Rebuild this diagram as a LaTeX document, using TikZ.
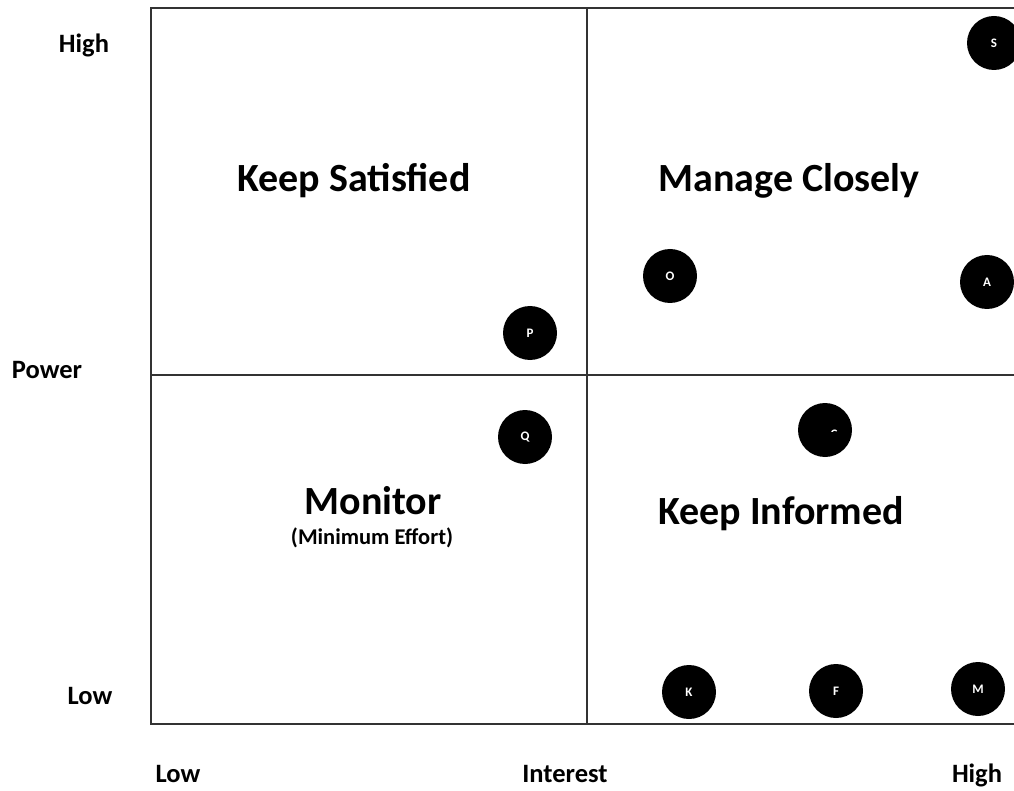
\documentclass[tikz,border=0pt]{standalone}
\usepackage{fontspec}
\setmainfont{Carlito}
\begin{document}
\begin{tikzpicture}[x=1pt,y=-1pt,
  grid/.style={draw=black!80,line width=1.3pt},
  axislabel/.style={font=\bfseries\fontsize{26.5}{28}\selectfont,text=black},
  quadtitle/.style={font=\bfseries\fontsize{40}{44}\selectfont,text=black},
  subtitle/.style={font=\bfseries\fontsize{22.5}{25}\selectfont,text=black},
  party/.style={circle,fill=black,minimum size=54pt,inner sep=0pt,text=white,
    font=\bfseries\fontsize{13}{15}\selectfont}]
\useasboundingbox (0,0) rectangle (1014,791);
\clip (0,0) rectangle (1014,791);
% quadrant grid
\coordinate (tl) at (151,8);
\coordinate (tr) at (1020,8);
\coordinate (bl) at (151,724);
\coordinate (br) at (1020,724);
\coordinate (mt) at (587,8);
\coordinate (mb) at (587,724);
\coordinate (ml) at (151,375);
\coordinate (mr) at (1020,375);
\draw[grid] (tr) -- (tl) -- (bl) -- (br);
\draw[grid] (mt) -- (mb);
\draw[grid] (ml) -- (mr);
% axis labels
\node[axislabel] (phigh) at (84,45) {High};
\node[axislabel] (power) at (47,370) {Power};
\node[axislabel] (plow) at (90,696) {Low};
\node[axislabel] (ilow) at (178,774) {Low};
\node[axislabel] (interest) at (565,774) {Interest};
\node[axislabel] (ihigh) at (977,775) {High};
% quadrant titles
\node[quadtitle] (ks) at (354,181) {Keep Satisfied};
\node[quadtitle] (mc) at (789,181) {Manage Closely};
\node[quadtitle] (mon) at (373,501) {Monitor};
\node[subtitle] (minef) at (372,538) {(Minimum Effort)};
\node[quadtitle] (ki) at (781,514) {Keep Informed};
% stakeholders
\node[party] (S) at (994,43) {S};
\node[party] (O) at (670,276) {O};
\node[party] (A) at (987,282) {A};
\node[party] (P) at (530,333) {P};
\node[party] (Q) at (525,437) {Q};
\node[party] (C) at (825,430) {};
\begin{scope}
  \clip (820,418) rectangle (840,431);
  \node[text=white,font=\bfseries\fontsize{13}{15}\selectfont] (Clab) at (834,434) {C};
\end{scope}
\node[party] (K) at (689,692) {K};
\node[party] (F) at (836,691) {F};
\node[party] (M) at (978,689) {M};
\end{tikzpicture}
\end{document}
